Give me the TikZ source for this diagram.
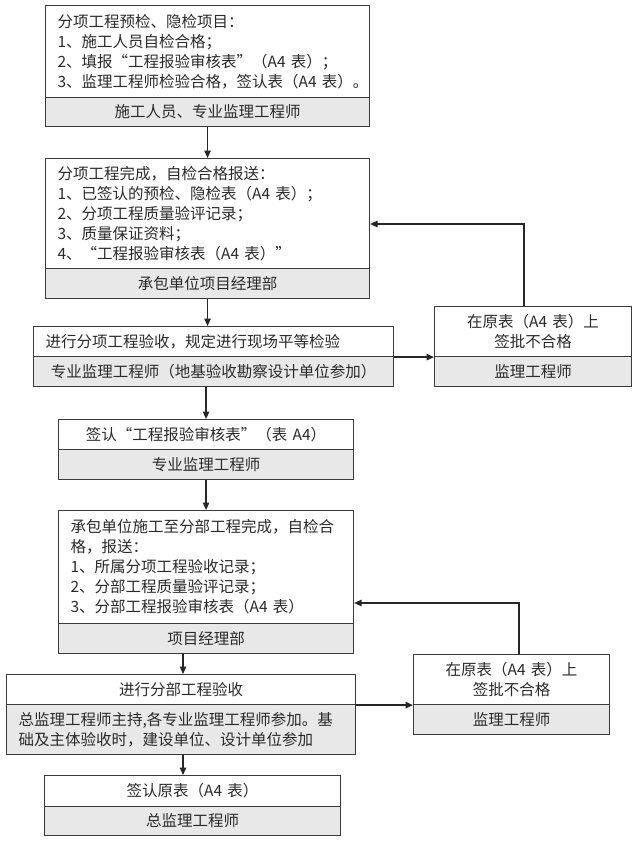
\documentclass[tikz,border=0pt]{standalone}
\usepackage{fontspec}
\setmainfont{Noto Sans CJK SC}
\usetikzlibrary{arrows.meta,backgrounds}
\definecolor{bordc}{HTML}{3A3A3A}
\definecolor{grayc}{HTML}{E8E8E8}
\definecolor{shadc}{HTML}{8C8C8C}
\definecolor{txtc}{HTML}{2A2A2A}
\begin{document}
\begin{tikzpicture}[x=1pt,y=-1pt,
  part/.style={draw=bordc, line width=1.1pt, anchor=north west, inner xsep=12pt,
    inner ysep=0pt, text=txtc, font=\fontsize{15.5}{20}\selectfont},
  toppart/.style={part, fill=white, align=left},
  topc/.style={part, fill=white, align=center},
  botpart/.style={part, fill=grayc, align=center},
  botleft/.style={part, fill=grayc, align=left},
  arr/.style={draw=black!85, line width=1.3pt, -{Triangle[length=7.5pt,width=6.5pt]}},
  shad/.style={fill=shadc}
]
\useasboundingbox[fill=white] (0,0) rectangle (640,841);

% box 1
\node[toppart, minimum width=324pt, text width=300pt, minimum height=92pt] (b1t) at (45,5)
 {\mbox{分项工程预检、隐检项目：}\\\mbox{1、施工人员自检合格；}\\\mbox{2、填报“工程报验审核表”（A4 表）；}\\\mbox{3、监理工程师检验合格，签认表（A4 表）。}};
\node[botpart, minimum width=324pt, text width=300pt, minimum height=29pt] (b1b) at (45,97)
 {施工人员、专业监理工程师};

% box 2
\node[toppart, minimum width=324pt, text width=300pt, minimum height=110pt] (b2t) at (45,158)
 {\mbox{分项工程完成，自检合格报送：}\\\mbox{1、已签认的预检、隐检表（A4 表）；}\\\mbox{2、分项工程质量验评记录；}\\\mbox{3、质量保证资料；}\\\mbox{4、“工程报验审核表（A4 表）”}};
\node[botpart, minimum width=324pt, text width=300pt, minimum height=30pt] (b2b) at (45,268)
 {承包单位项目经理部};

% box 3
\node[toppart, minimum width=360pt, text width=336pt, minimum height=30pt] (b3t) at (33,326)
 {\mbox{进行分项工程验收，规定进行现场平等检验}};
\node[botpart, minimum width=360pt, text width=336pt, minimum height=30pt] (b3b) at (33,356)
 {专业监理工程师（地基验收勘察设计单位参加）};

% right box 1
\node[topc, minimum width=197pt, text width=173pt, minimum height=50pt] (r1t) at (434,306)
 {在原表（A4 表）上\\签批不合格};
\node[botpart, minimum width=197pt, text width=173pt, minimum height=30pt] (r1b) at (434,356)
 {监理工程师};

% box 4
\node[topc, minimum width=295pt, text width=271pt, minimum height=30pt] (b4t) at (58,419)
 {签认“工程报验审核表”（表 A4）};
\node[botpart, minimum width=295pt, text width=271pt, minimum height=30pt] (b4b) at (58,449)
 {专业监理工程师};

% box 5
\node[toppart, minimum width=295pt, text width=271pt, minimum height=113pt] (b5t) at (58,510)
 {\mbox{承包单位施工至分部工程完成，自检合}\\\mbox{格，报送：}\\\mbox{1、所属分项工程验收记录；}\\\mbox{2、分部工程质量验评记录；}\\\mbox{3、分部工程报验审核表（A4 表）}};
\node[botpart, minimum width=295pt, text width=271pt, minimum height=30pt] (b5b) at (58,623)
 {项目经理部};

% box 6
\node[topc, minimum width=349pt, text width=325pt, minimum height=30pt] (b6t) at (6,674)
 {进行分部工程验收};
\node[botleft, minimum width=349pt, text width=325pt, minimum height=50pt] (b6b) at (6,704)
 {\mbox{总监理工程师主持,各专业监理工程师参加。基}\\\mbox{础及主体验收时，建设单位、设计单位参加}};

% right box 2
\node[topc, minimum width=196pt, text width=172pt, minimum height=50pt] (r2t) at (413,654)
 {在原表（A4 表）上\\签批不合格};
\node[botpart, minimum width=196pt, text width=172pt, minimum height=30pt] (r2b) at (413,704)
 {监理工程师};

% box 7
\node[topc, minimum width=296pt, text width=272pt, minimum height=31pt] (b7t) at (44,775)
 {签认原表（A4 表）};
\node[botpart, minimum width=296pt, text width=272pt, minimum height=29pt] (b7b) at (44,806)
 {总监理工程师};

% shadows
\begin{scope}[on background layer]
\foreach \t/\b in {b1t/b1b,b2t/b2b,b3t/b3b,r1t/r1b,b4t/b4b,b5t/b5b,b6t/b6b,r2t/r2b,b7t/b7b}{
  \fill[shad] ([shift={(3pt,-3pt)}]\t.north west) rectangle ([shift={(3pt,-3pt)}]\b.south east);
}
\end{scope}

% connectors
\coordinate (c56) at (183,0);
\coordinate (f1) at (524,224);
\coordinate (f2) at (519,603);
\draw[arr] (b1b.south) -- (b2t.north);
\draw[arr] (b2b.south) -- (b2b.south |- b3t.north);
\draw[arr] (b4t.north |- b3b.south) -- (b4t.north);
\draw[arr] (b4b.south) -- (b5t.north);
\draw[arr] (c56 |- b5b.south) -- (c56 |- b6t.north);
\draw[arr] (c56 |- b6b.south) -- (c56 |- b7t.north);
\draw[arr] (b3t.south east) -- (r1t.south west);
\draw[arr] (b6t.south east) -- (r2t.south west);
\draw[arr] (f1 |- r1t.north) -- (f1) -- (f1 -| b2t.east);
\draw[arr] (f2 |- r2t.north) -- (f2) -- (f2 -| b5t.east);
\end{tikzpicture}
\end{document}
